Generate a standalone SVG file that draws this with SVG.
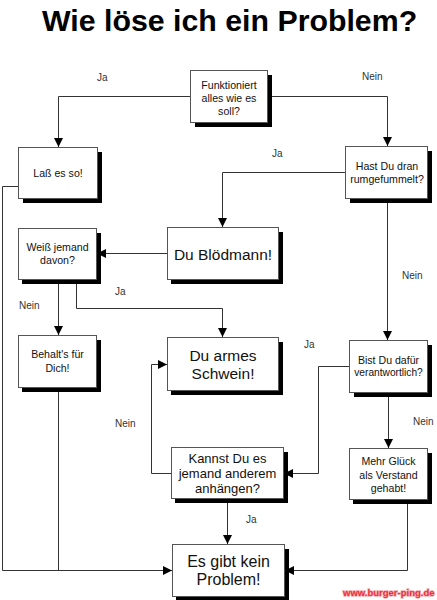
<svg xmlns="http://www.w3.org/2000/svg" width="437" height="600" viewBox="0 0 437 600">
<defs>
<style>
.bg{fill:#fff}
.box{fill:#fff;stroke:#555;stroke-width:1}
.sh{fill:#000}
.t{font-family:"Liberation Sans",Arial,sans-serif;fill:#111;text-anchor:middle}
.s{font-size:10.6px}
.m{font-size:13px}
.b{font-size:15.5px}
.lbl{font-family:"Liberation Sans",Arial,sans-serif;font-size:10px;fill:#333}
.c{fill:none;stroke:#333;stroke-width:1}
</style>
<marker id="ah" viewBox="0 0 10 10" refX="10" refY="5" markerWidth="9" markerHeight="9" markerUnits="userSpaceOnUse" orient="auto">
<path d="M0,0 L10,5 L0,10 z" fill="#000"/>
</marker>
</defs>
<rect class="bg" x="0" y="0" width="437" height="600"/>
<text x="42" y="30.5" font-family="'Liberation Sans',Arial,sans-serif" font-size="30.3" font-weight="bold" fill="#000">Wie löse ich ein Problem?</text>

<g id="n1"><rect class="sh" x="195" y="75" width="77" height="52"/><rect class="box" x="190.5" y="70.5" width="77" height="52"/>
<text class="t s" x="229" y="88.5">Funktioniert</text><text class="t s" x="229" y="101.5">alles wie es</text><text class="t s" x="229" y="114.5">soll?</text></g>
<g id="n2"><rect class="sh" x="23" y="152" width="79" height="51"/><rect class="box" x="18.5" y="147.5" width="79" height="51"/>
<text class="t s" x="58" y="177">Laß es so!</text></g>
<g id="n3"><rect class="sh" x="350" y="151" width="82" height="52"/><rect class="box" x="345.5" y="146.5" width="82" height="52"/>
<text class="t s" x="387" y="170">Hast Du dran</text><text class="t s" x="387" y="183">rumgefummelt?</text></g>
<g id="n4"><rect class="sh" x="171" y="232" width="112" height="52"/><rect class="box" x="167.5" y="227.5" width="111" height="52"/>
<text class="t b" x="223" y="259.5">Du Blödmann!</text></g>
<g id="n5"><rect class="sh" x="22" y="233" width="79" height="51"/><rect class="box" x="18.5" y="228.5" width="78" height="51"/>
<text class="t s" x="57.5" y="251">Weiß jemand</text><text class="t s" x="57.5" y="263.5">davon?</text></g>
<g id="n6"><rect class="sh" x="22" y="340" width="79" height="52"/><rect class="box" x="18.5" y="335.5" width="78" height="52"/>
<text class="t s" x="57.5" y="358">Behalt's für</text><text class="t s" x="57.5" y="371.5">Dich!</text></g>
<g id="n7"><rect class="sh" x="171" y="342" width="112" height="53"/><rect class="box" x="167.5" y="337.5" width="111" height="53"/>
<text class="t b" x="223" y="360.5">Du armes</text><text class="t b" x="223" y="379">Schwein!</text></g>
<g id="n8"><rect class="sh" x="354" y="345" width="78" height="52"/><rect class="box" x="349.5" y="340.5" width="78" height="52"/>
<text class="t s" x="388.5" y="364">Bist Du dafür</text><text class="t s" x="388.5" y="376" style="font-size:10.2px">verantwortlich?</text></g>
<g id="n9"><rect class="sh" x="175" y="452" width="113" height="51"/><rect class="box" x="171.5" y="447.5" width="112" height="51"/>
<text class="t m" x="227.5" y="462.5">Kannst Du es</text><text class="t m" x="227.5" y="477.5">jemand anderem</text><text class="t m" x="227.5" y="492.5">anhängen?</text></g>
<g id="n10"><rect class="sh" x="353" y="453" width="79" height="51"/><rect class="box" x="349.5" y="448.5" width="78" height="51"/>
<text class="t s" x="388.5" y="465">Mehr Glück</text><text class="t s" x="388.5" y="478.5">als Verstand</text><text class="t s" x="388.5" y="492">gehabt!</text></g>
<g id="n11"><rect class="sh" x="176" y="549" width="113" height="52"/><rect class="box" x="172.5" y="544.5" width="112" height="52"/>
<text class="t" x="228.5" y="566.5" font-size="16">Es gibt kein</text><text class="t" x="228.5" y="585" font-size="16">Problem!</text></g>

<g id="connectors">
<path class="c" d="M190,96.5 H58.5 V147" marker-end="url(#ah)"/>
<path class="c" d="M272,96.5 H387.5 V146" marker-end="url(#ah)"/>
<path class="c" d="M345,172.5 H222.5 V227" marker-end="url(#ah)"/>
<path class="c" d="M387.5,203 V340" marker-end="url(#ah)"/>
<path class="c" d="M167,253.5 H97" marker-end="url(#ah)"/>
<path class="c" d="M58.5,284 V335" marker-end="url(#ah)"/>
<path class="c" d="M76.5,284 V308.5 H222.5 V337" marker-end="url(#ah)"/>
<path class="c" d="M18,186.5 H2.5 V570.5 H172" marker-end="url(#ah)"/>
<path class="c" d="M58.5,392 V570.5"/>
<path class="c" d="M171,473.5 H151.5 V364.5 H167" marker-end="url(#ah)"/>
<path class="c" d="M349,366.5 H318.5 V473.5 H284" marker-end="url(#ah)"/>
<path class="c" d="M388.5,397 V448" marker-end="url(#ah)"/>
<path class="c" d="M227.5,503 V544" marker-end="url(#ah)"/>
<path class="c" d="M407.5,504 V570.5 H285" marker-end="url(#ah)"/>
<text class="lbl" x="97" y="81">Ja</text>
<text class="lbl" x="362" y="80">Nein</text>
<text class="lbl" x="272" y="157">Ja</text>
<text class="lbl" x="19" y="308.5">Nein</text>
<text class="lbl" x="115" y="295">Ja</text>
<text class="lbl" x="402" y="279">Nein</text>
<text class="lbl" x="304" y="348">Ja</text>
<text class="lbl" x="115" y="426.5">Nein</text>
<text class="lbl" x="413" y="425">Nein</text>
<text class="lbl" x="246" y="522.5">Ja</text>
</g>
<text x="343" y="596" font-family="'Liberation Sans',Arial,sans-serif" font-size="9.5" font-weight="bold" fill="#e8323c" stroke="#f6b0b4" stroke-width="1.5" paint-order="stroke">www.burger-ping.de</text>
</svg>
